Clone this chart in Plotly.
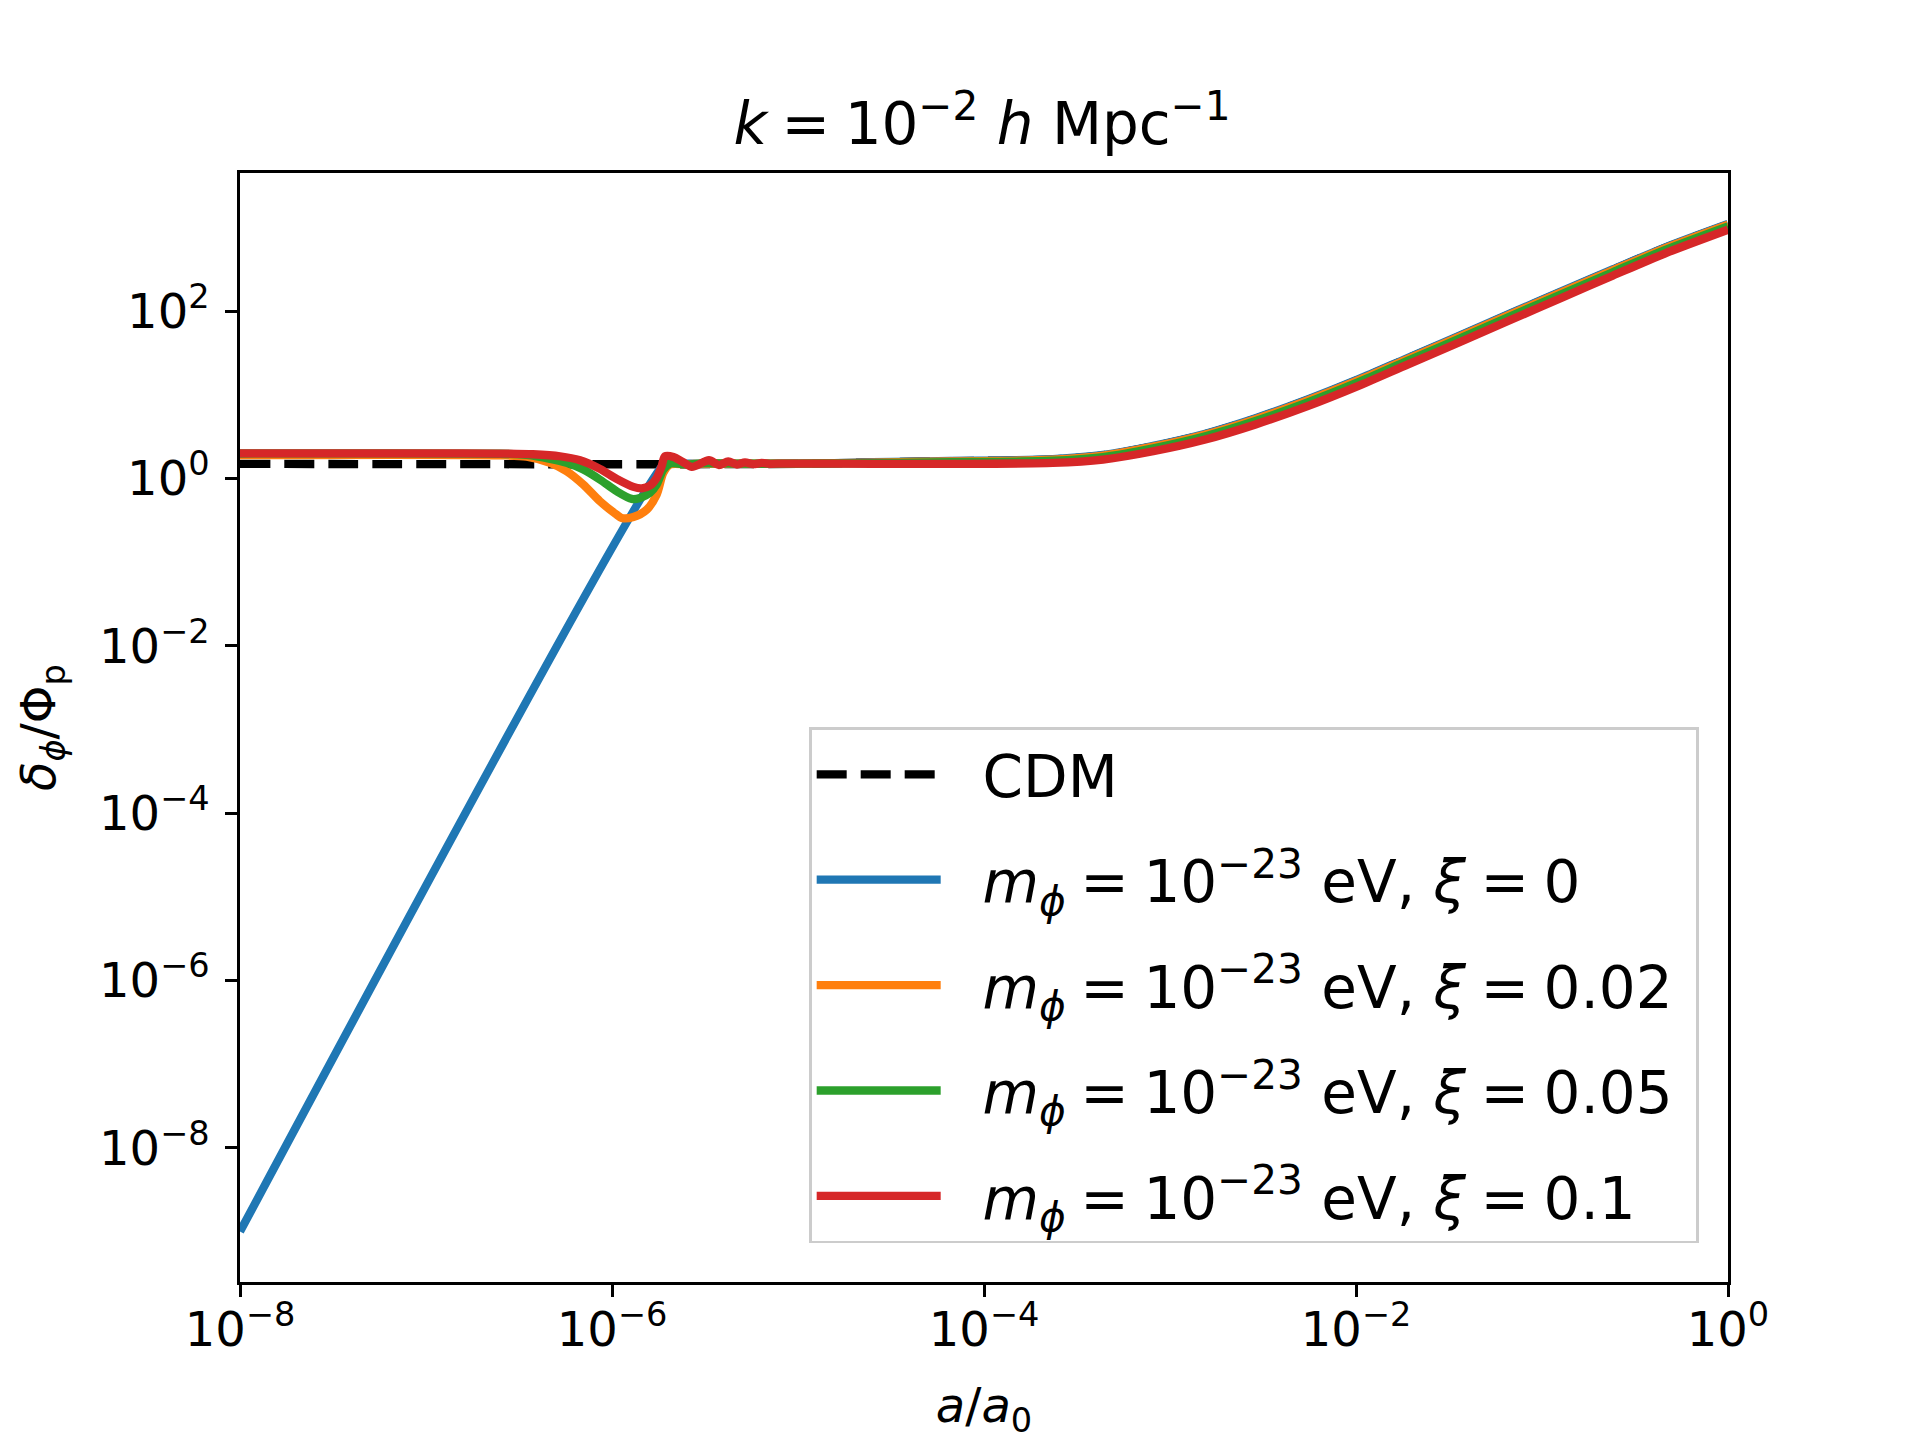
import plotly.graph_objects as go

# values, stored as log10(a/a0) and log10(delta_phi/Phi_p)
cdm_log_a = [-8.0, -5.0, -4.6, -4.18, -3.63, -3.36, -3.09, -2.81, -2.54, -2.26,
             -1.99, -1.72, -1.44, -1.17, -0.89, -0.62, -0.34, 0.0]
cdm_log_d = [0.176, 0.176, 0.194, 0.208, 0.229, 0.278, 0.386, 0.531, 0.716, 0.94,
             1.179, 1.439, 1.706, 1.969, 2.237, 2.495, 2.757, 3.039]

blue_log_a = [-8.0, -5.726, -5.70, -5.5, -5.0, -4.6, -4.18, -3.63, -3.36, -3.09,
              -2.81, -2.54, -2.26, -1.99, -1.72, -1.44, -1.17, -0.89, -0.62, -0.34, 0.0]
blue_log_d = [-9.0, 0.156, 0.176, 0.176, 0.178, 0.196, 0.211, 0.233, 0.283, 0.392,
              0.537, 0.722, 0.946, 1.185, 1.445, 1.712, 1.975, 2.243, 2.5, 2.762, 3.044]

orange_log_a = [-8.0, -6.6, -6.459, -6.333, -6.244, -6.154, -6.065, -5.975, -5.948,
                -5.885, -5.813, -5.76, -5.724, -5.688, -5.6, -5.5, -5.3, -5.0,
                -4.6, -4.18, -3.63, -3.36, -3.09, -2.81, -2.54, -2.26, -1.99,
                -1.72, -1.44, -1.17, -0.89, -0.62, -0.34, 0.0]
orange_log_d = [0.281, 0.278, 0.262, 0.188, 0.088, -0.072, -0.271, -0.431, -0.471,
                -0.459, -0.371, -0.192, 0.068, 0.168, 0.172, 0.18, 0.178, 0.178,
                0.192, 0.206, 0.226, 0.275, 0.382, 0.527, 0.711, 0.934, 1.173,
                1.433, 1.70, 1.963, 2.231, 2.489, 2.751, 3.034]

green_log_a = [-8.0, -6.6, -6.46, -6.333, -6.244, -6.154, -6.065, -5.975, -5.894,
               -5.849, -5.796, -5.76, -5.724, -5.688, -5.6, -5.5, -5.3, -5.0,
               -4.6, -4.18, -3.63, -3.36, -3.09, -2.81, -2.54, -2.26, -1.99,
               -1.72, -1.44, -1.17, -0.89, -0.62, -0.34, 0.0]
green_log_d = [0.3, 0.297, 0.283, 0.236, 0.188, 0.108, -0.012, -0.152, -0.243,
               -0.231, -0.171, -0.072, 0.108, 0.18, 0.17, 0.185, 0.178, 0.178,
               0.186, 0.196, 0.213, 0.258, 0.363, 0.507, 0.689, 0.911, 1.15,
               1.41, 1.677, 1.94, 2.209, 2.467, 2.73, 3.014]

red_log_a = [-8.0, -6.9, -6.6, -6.425, -6.28, -6.172, -6.065, -5.975, -5.885, -5.84,
             -5.796, -5.76, -5.733, -5.715, -5.67, -5.617, -5.57, -5.479, -5.425,
             -5.375, -5.328, -5.285, -5.242, -5.195, -5.151, -5.07, -4.6, -4.18,
             -3.63, -3.36, -3.09, -2.81, -2.54, -2.26, -1.99, -1.72, -1.44, -1.17,
             -0.89, -0.62, -0.34, 0.0]
red_log_d = [0.302, 0.302, 0.299, 0.291, 0.267, 0.219, 0.116, -0.004, -0.099, -0.116,
             -0.084, 0.008, 0.148, 0.267, 0.259, 0.195, 0.14, 0.219, 0.162,
             0.204, 0.168, 0.194, 0.172, 0.187, 0.177, 0.18, 0.176, 0.176,
             0.188, 0.228, 0.327, 0.467, 0.647, 0.866, 1.105, 1.365, 1.632, 1.895,
             2.165, 2.425, 2.69, 2.974]

x_tick_vals = [1e-8, 1e-6, 1e-4, 1e-2, 1]
x_tick_text = ["10<sup>−8</sup>", "10<sup>−6</sup>", "10<sup>−4</sup>",
               "10<sup>−2</sup>", "10<sup>0</sup>"]
y_tick_vals = [1e-8, 1e-6, 1e-4, 1e-2, 1, 1e2]
y_tick_text = ["10<sup>−8</sup>", "10<sup>−6</sup>", "10<sup>−4</sup>",
               "10<sup>−2</sup>", "10<sup>0</sup>", "10<sup>2</sup>"]

EQ = "\u2005=\u2005"
PAD = "\u00a0\u00a0"
labels = [
    PAD + "CDM",
    PAD + f"<i>m</i><sub><i>ϕ</i></sub>{EQ}10<sup>−23</sup> eV, <i>ξ</i>{EQ}0\u00a0",
    PAD + f"<i>m</i><sub><i>ϕ</i></sub>{EQ}10<sup>−23</sup> eV, <i>ξ</i>{EQ}0.02\u00a0",
    PAD + f"<i>m</i><sub><i>ϕ</i></sub>{EQ}10<sup>−23</sup> eV, <i>ξ</i>{EQ}0.05\u00a0",
    PAD + f"<i>m</i><sub><i>ϕ</i></sub>{EQ}10<sup>−23</sup> eV, <i>ξ</i>{EQ}0.1\u00a0",
]
colors = ["black", "#1f77b4", "#ff7f0e", "#2ca02c", "#d62728"]

series = [
    (cdm_log_a, cdm_log_d),
    (blue_log_a, blue_log_d),
    (orange_log_a, orange_log_d),
    (green_log_a, green_log_d),
    (red_log_a, red_log_d),
]

FONT = "DejaVu Sans"

fig = go.Figure()
for i, (la, ld) in enumerate(series):
    fig.add_trace(go.Scatter(
        x=[10 ** v for v in la],
        y=[10 ** v for v in ld],
        mode="lines",
        name=labels[i],
        legendgroup=f"g{i}",
        line=dict(color=colors[i], width=8.3, shape="spline", smoothing=0.8,
                  dash="30px,14px" if i == 0 else "solid"),
    ))

axis_style = dict(
    type="log",
    showgrid=False,
    zeroline=False,
    showline=True,
    mirror=True,
    linecolor="black",
    linewidth=2.7,
    ticks="outside",
    ticklen=12,
    tickwidth=2.7,
    tickcolor="black",
    tickfont=dict(family=FONT, size=48, color="black"),
)

fig.update_xaxes(axis_style, range=[-8, 0],
                 tickvals=x_tick_vals, ticktext=x_tick_text,
                 ticklabelstandoff=-8,
                 title=dict(text="<i>a</i>/<i>a</i><sub>0</sub>",
                            font=dict(family=FONT, size=48, color="black"),
                            standoff=32))
fig.update_yaxes(axis_style, range=[-9.6025, 3.6525],
                 tickvals=y_tick_vals, ticktext=y_tick_text,
                 ticklabelstandoff=6,
                 title=dict(text="<i>δ</i><sub><i>ϕ</i></sub>/Φ<sub>p</sub>",
                            font=dict(family=FONT, size=48, color="black"),
                            standoff=29))

# the page body adds 8px at top/left, so the margins are shifted by that much
fig.update_layout(
    width=1920,
    height=1440,
    autosize=False,
    margin=dict(l=232, r=200, t=165, b=166),
    paper_bgcolor="white",
    plot_bgcolor="white",
    font=dict(family=FONT, color="black"),
    title=dict(
        text=f"<i>k</i>{EQ}10<sup>−2</sup> <i>h</i> Mpc<sup>−1</sup>",
        font=dict(family=FONT, size=58, color="black"),
        x=0.5073, xanchor="center",
        y=0.9195, yanchor="middle",
    ),
    legend=dict(
        x=0.9805, xanchor="right",
        y=0.0348, yanchor="bottom",
        bgcolor="rgba(255,255,255,0.8)",
        bordercolor="#cccccc",
        borderwidth=2.7,
        font=dict(family=FONT, size=58, color="black"),
        itemwidth=124,
        tracegroupgap=27,
        traceorder="grouped",
    ),
)

fig.write_html("out.html")
